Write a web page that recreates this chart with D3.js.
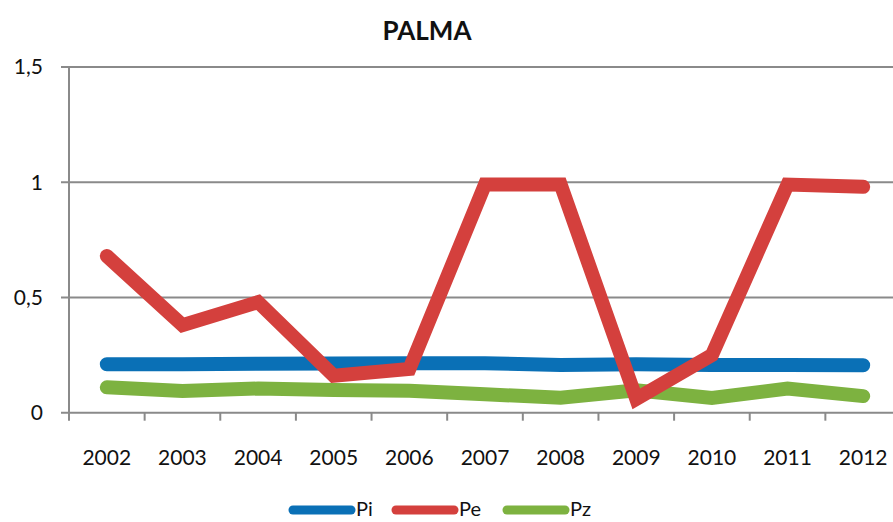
<!DOCTYPE html>
<html><head><meta charset="utf-8">
<script src="https://cdn.jsdelivr.net/npm/d3@7"></script>
<style>body{margin:0;background:#fff}svg{display:block}text{font-family:Lato,"Open Sans",sans-serif}</style>
</head><body><svg id="c" width="893" height="522"></svg>
<script>
const title = "PALMA";
const years = ["2002","2003","2004","2005","2006","2007","2008","2009","2010","2011","2012"];
const pi = [0.21,0.21,0.212,0.213,0.215,0.215,0.207,0.21,0.207,0.207,0.206];
const pe = [0.68,0.38,0.48,0.16,0.19,0.99,0.99,0.06,0.25,0.99,0.98];
const pz = [0.11,0.094,0.105,0.098,0.095,0.08,0.065,0.097,0.064,0.105,0.072];
const seriesNames = ["Pi","Pe","Pz"];
const seriesColors = ["#0a70b6","#d4403d","#7db240"];
const yTicks = [0,0.5,1,1.5];
const yTickLabels = ["0","0,5","1","1,5"];

const svg = d3.select("#c");
const x = d3.scaleBand().domain(years).range([69,901]);
const y = d3.scaleLinear().domain([0,1.5]).range([412.7,67]);

svg.append("g").selectAll("line").data(yTicks).join("line")
  .attr("x1",61).attr("x2",893).attr("y1",d=>y(d)).attr("y2",d=>y(d))
  .attr("stroke","#8a8a8a").attr("stroke-width",2);
svg.append("line").attr("x1",69).attr("x2",69).attr("y1",y(1.5)).attr("y2",y(0)+8)
  .attr("stroke","#8a8a8a").attr("stroke-width",2);
const xt = years.map(d=>x(d)).concat([x(years[years.length-1])+x.bandwidth()]);
svg.append("g").selectAll("line").data(xt.slice(1)).join("line")
  .attr("x1",d=>d).attr("x2",d=>d).attr("y1",y(0)).attr("y2",y(0)+8)
  .attr("stroke","#8a8a8a").attr("stroke-width",2);
svg.append("g").selectAll("text").data(yTicks).join("text")
  .attr("x",43).attr("y",d=>y(d)).attr("dy","0.35em").attr("text-anchor","end")
  .attr("font-size",21).attr("fill","#111").text((d,i)=>yTickLabels[i]);
svg.append("g").selectAll("text").data(years).join("text")
  .attr("x",d=>x(d)+x.bandwidth()/2).attr("y",465).attr("text-anchor","middle")
  .attr("font-size",21).attr("fill","#111").text(d=>d);
svg.append("text").attr("x",427).attr("y",40).attr("text-anchor","middle")
  .attr("font-size",26).attr("font-weight","bold").attr("fill","#111").text(title);

const data = [pi,pe,pz];
const line = d3.line().x((d,i)=>x(years[i])+x.bandwidth()/2).y(d=>y(d));
[0,2,1].forEach(k=>{
  svg.append("path").attr("d",line(data[k])).attr("fill","none")
    .attr("stroke",seriesColors[k]).attr("stroke-width",14)
    .attr("stroke-linecap","round").attr("stroke-linejoin","miter");
});
const lx = [293,396,507];
seriesNames.forEach((n,i)=>{
  svg.append("line").attr("x1",lx[i]).attr("x2",lx[i]+58).attr("y1",510).attr("y2",510)
    .attr("stroke",seriesColors[i]).attr("stroke-width",9).attr("stroke-linecap","round");
  svg.append("text").attr("x",lx[i]+63).attr("y",516).attr("font-size",20).attr("fill","#111").text(n);
});
</script></body></html>
